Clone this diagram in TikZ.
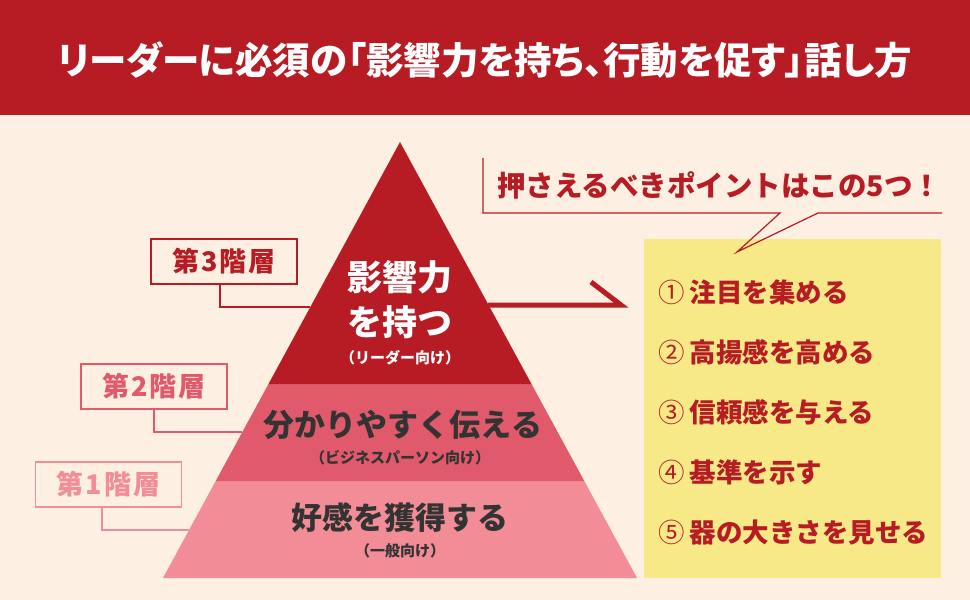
\documentclass[tikz,border=0pt]{standalone}
\usepackage{fontspec}
\setmainfont{Noto Sans CJK JP}
\newfontfamily\jp{Noto Sans CJK JP}
\newfontfamily\jpp{Noto Sans CJK JP}[RawFeature=+palt]
\definecolor{bgc}{RGB}{253,239,225}
\definecolor{hred}{RGB}{183,28,36}
\definecolor{mpink}{RGB}{224,90,108}
\definecolor{lpink}{RGB}{242,140,150}
\definecolor{yel}{RGB}{247,233,135}
\definecolor{dgray}{RGB}{51,51,51}
\newcommand{\circnum}[1]{{\mdseries #1}\hspace{5pt}}
\tikzset{
  lbox/.style={draw=#1, line width=1.5pt, fill=bgc, minimum width=146pt, minimum height=45pt, inner sep=0pt, text=#1, font=\jp\bfseries\fontsize{27}{27}\selectfont},
  lconn/.style={draw=#1, line width=1.5pt},
  ptext/.style={inner sep=0pt, font=\jp\bfseries\fontsize{31}{31}\selectfont},
  psub/.style={inner sep=0pt, font=\jp\bfseries\fontsize{15}{15}\selectfont},
  item/.style={anchor=west, inner sep=0pt, text=hred, font=\jp\bfseries\fontsize{26.5}{26.5}\selectfont},
}
\begin{document}
\begin{tikzpicture}[x=1pt,y=-1pt]
\useasboundingbox (0,0) rectangle (970,600);
\fill[bgc] (0,0) rectangle (970,600);
\fill[hred] (0,0) rectangle (970,115);
\node[inner sep=0pt, text=white, font=\jpp\bfseries\fontsize{37.5}{37.5}\selectfont] (title) at (485,60) {リーダーに必須の「影響力を持ち、行動を促す」話し方};
% pyramid
\coordinate (apex) at (400,142);
\coordinate (bl) at (163,578);
\coordinate (br) at (637,578);
\coordinate (l1) at (268.5,384);
\coordinate (r1) at (531.5,384);
\coordinate (l2) at (215.7,481);
\coordinate (r2) at (584.3,481);
\fill[lpink] (l2) -- (r2) -- (br) -- (bl) -- cycle;
\fill[mpink] (l1) -- (r1) -- (r2) -- (l2) -- cycle;
\fill[hred] (apex) -- (r1) -- (l1) -- cycle;
\node[ptext, text=white, font=\jp\bfseries\fontsize{35}{35}\selectfont] (t3a) at (400,277) {影響力};
\node[ptext, text=white, font=\jp\bfseries\fontsize{35}{35}\selectfont] (t3b) at (400,322) {を持つ};
\node[psub, text=white] (t3c) at (400,358) {（リーダー向け）};
\node[ptext, text=dgray] (t2a) at (403,425) {分かりやすく伝える};
\node[psub, text=dgray] (t2b) at (400,458) {（ビジネスパーソン向け）};
\node[ptext, text=dgray] (t1a) at (400,518) {好感を獲得する};
\node[psub, text=dgray] (t1b) at (400,551) {（一般向け）};
% level labels
\node[lbox=hred] (lab3) at (224,261.5) {第\kern2pt3\kern2pt階\kern2pt層};
\node[lbox=mpink] (lab2) at (154,386.5) {第\kern2pt2\kern2pt階\kern2pt層};
\node[lbox=lpink] (lab1) at (108.5,484.5) {第\kern2pt1\kern2pt階\kern2pt層};
\coordinate (e3) at (310.3,307);
\coordinate (e2) at (242.4,432);
\coordinate (e1) at (189.1,530);
\draw[lconn=hred] (lab3.south -| 220,0) |- (e3);
\draw[lconn=mpink] (lab2.south -| 154,0) |- (e2);
\draw[lconn=lpink] (lab1.south -| 102,0) |- (e1);
% arrow
\coordinate (as) at (488,305);
\coordinate (ae) at (621,305);
\coordinate (aw) at (591,282);
\draw[hred, line width=5pt, line join=miter, miter limit=20] (as) -- (ae) -- (aw);
% yellow box
\fill[yel] (644,239) rectangle (941,578);
\node[item] (i1) at (658,292) {\circnum{①}注目を集める};
\node[item] (i2) at (658,352) {\circnum{②}高揚感を高める};
\node[item] (i3) at (658,412) {\circnum{③}信頼感を与える};
\node[item] (i4) at (658,472) {\circnum{④}基準を示す};
\node[item] (i5) at (658,533) {\circnum{⑤}器の大きさを見せる};
% speech bubble
\coordinate (b0) at (483,158);
\coordinate (b1) at (483,213);
\coordinate (b2) at (780,213);
\coordinate (b3) at (737,252);
\coordinate (b4) at (818,213);
\coordinate (b5) at (942,213);
\draw[hred, line width=1.2pt, line join=miter] (b0) -- (b1) -- (b2) -- (b3) -- (b4) -- (b5);
\node[inner sep=0pt, text=hred, font=\jp\bfseries\fontsize{28.5}{28.5}\selectfont] (btext) at (719,185) {押さえるべきポイントはこの5つ！};
\end{tikzpicture}
\end{document}
